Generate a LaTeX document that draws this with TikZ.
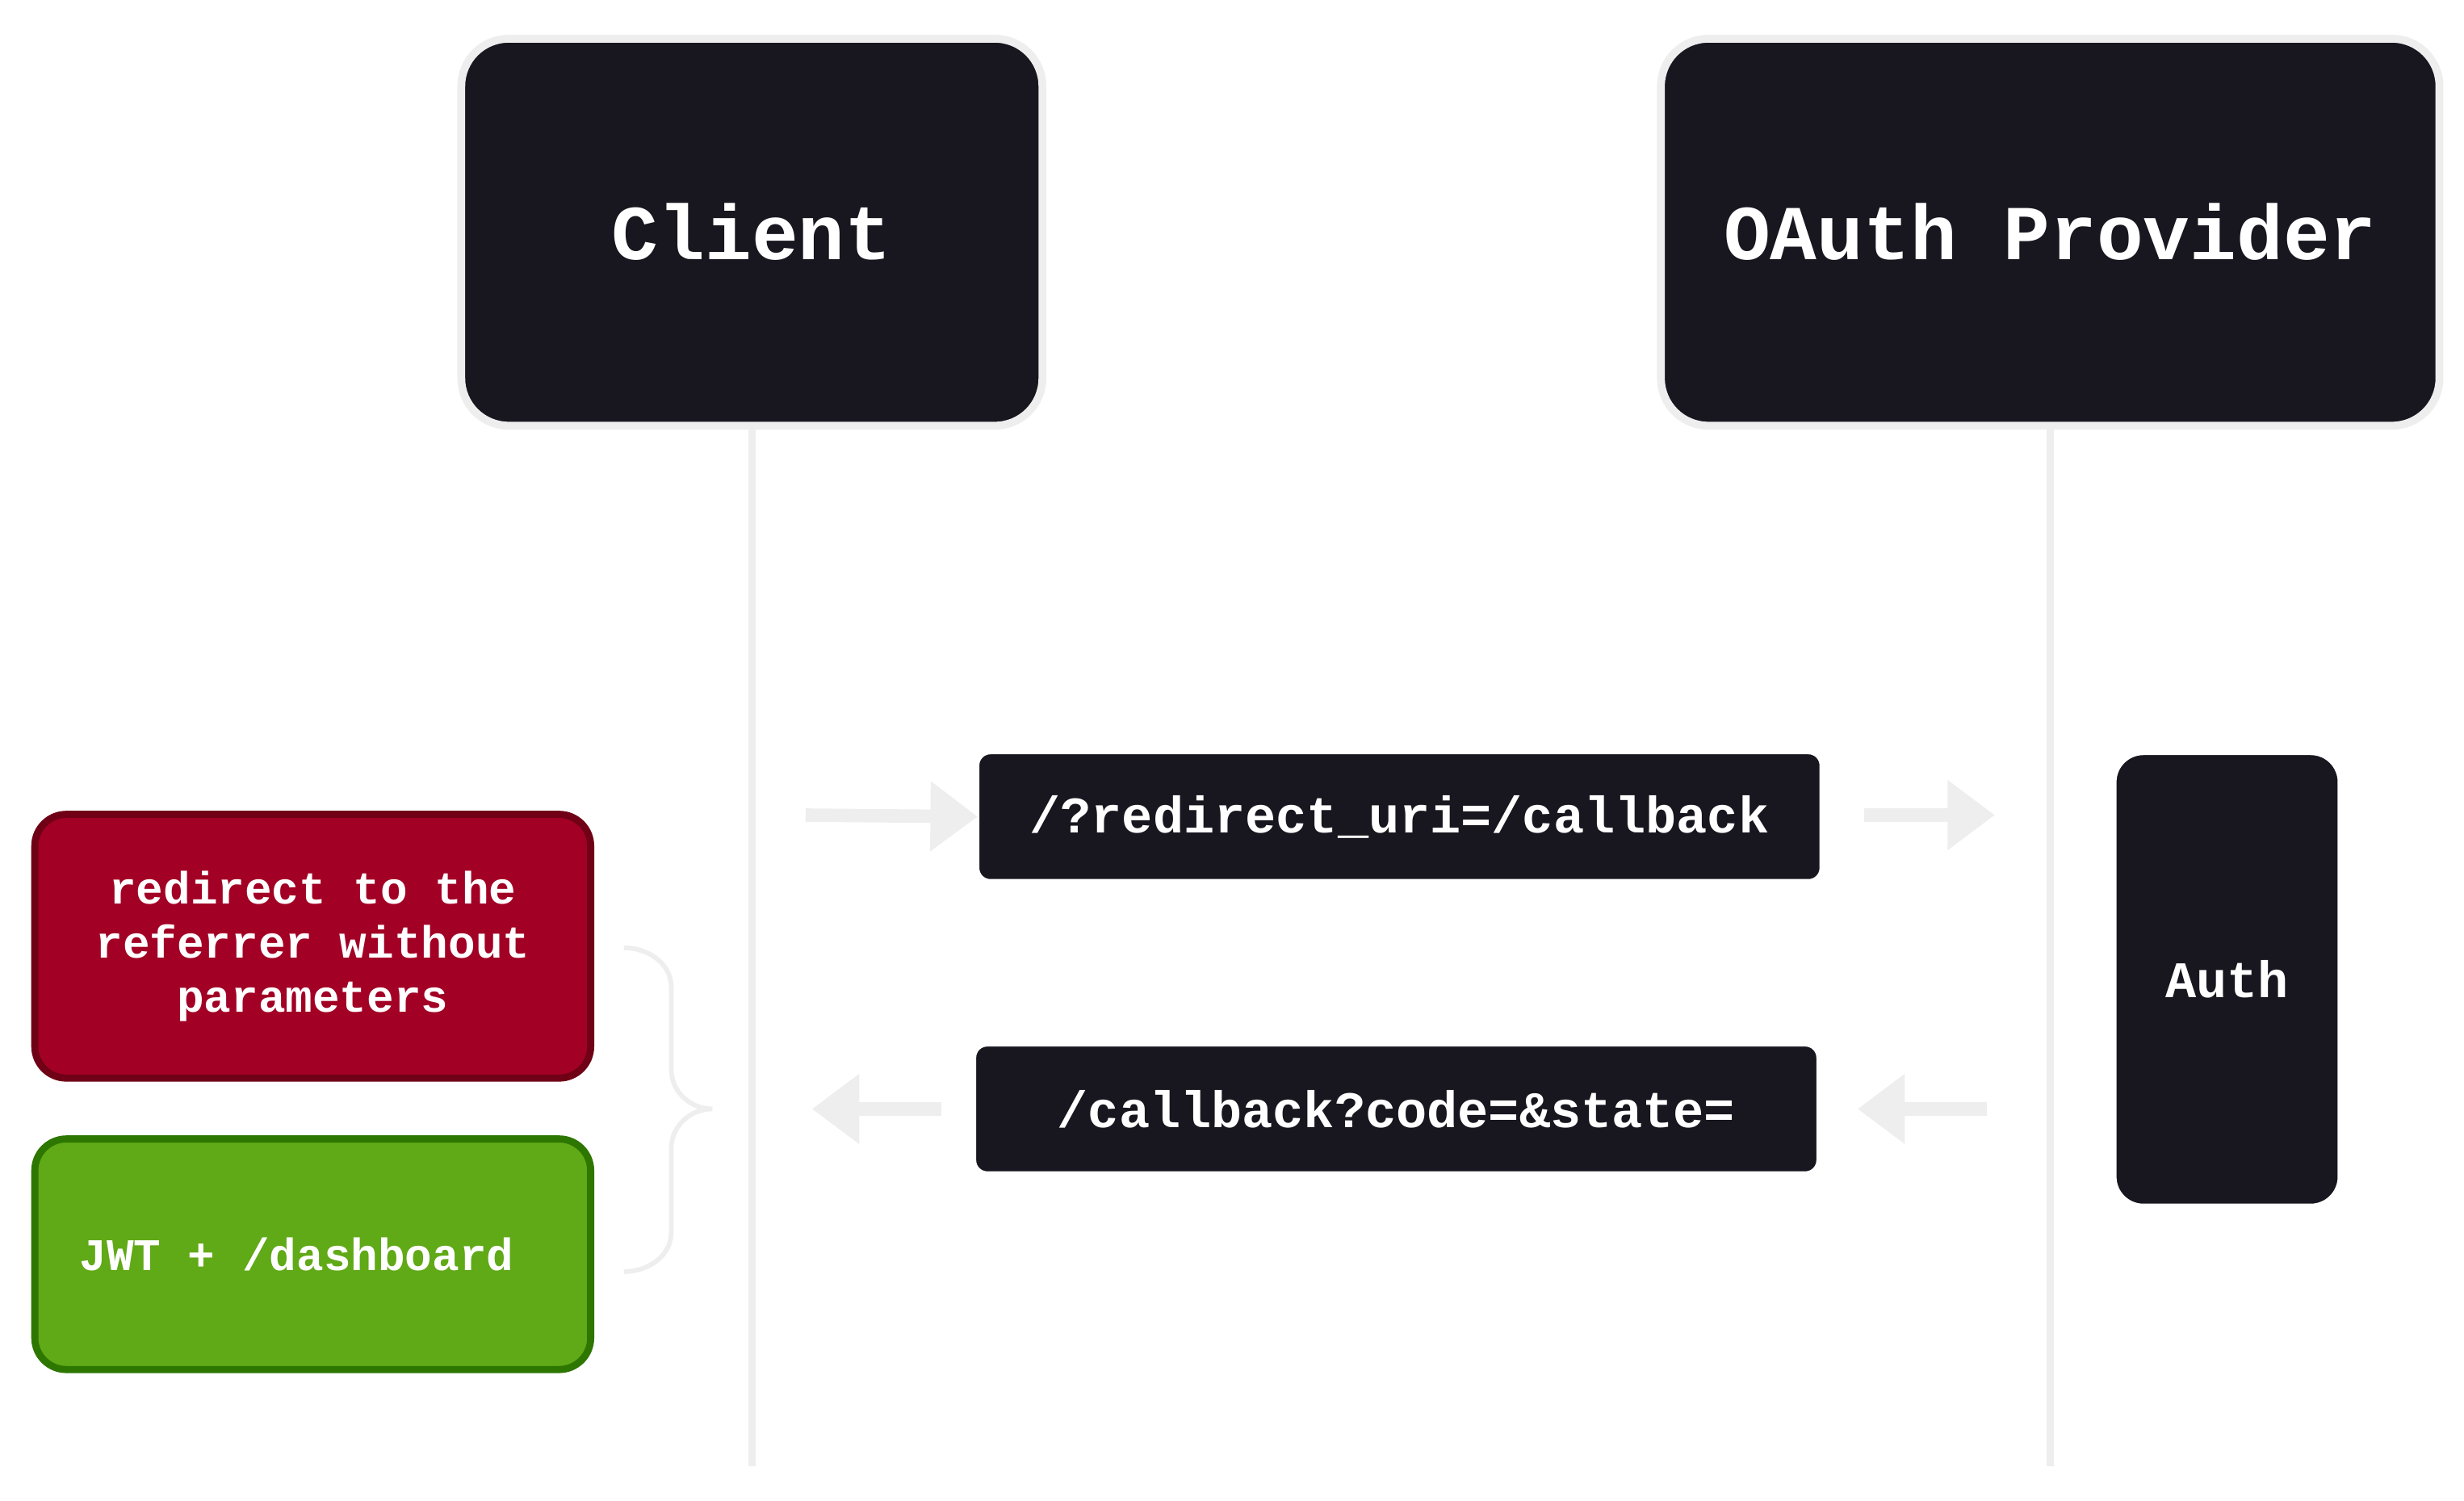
\documentclass[tikz,border=0pt]{standalone}
\usepackage{fontspec}
\setmonofont{Liberation Mono}
\usetikzlibrary{arrows.meta,positioning}
\definecolor{boxdark}{HTML}{18161E}
\definecolor{lifegray}{HTML}{EEEEEE}
\definecolor{redfill}{HTML}{A20025}
\definecolor{redline}{HTML}{6F0015}
\definecolor{greenfill}{HTML}{60A917}
\definecolor{greenline}{HTML}{2D7600}
\tikzset{
  actor/.style={draw=lifegray,line width=0.1cm,fill=boxdark,rounded corners=0.6cm,
    text=white,font=\ttfamily\bfseries\fontsize{28}{30}\selectfont,inner sep=0pt},
  msg/.style={draw=white,line width=0.02cm,fill=boxdark,rounded corners=0.15cm,
    text=white,font=\ttfamily\bfseries\fontsize{18.5}{20}\selectfont,inner sep=0pt},
  result/.style={line width=0.09cm,rounded corners=0.4cm,text=white,align=center,
    font=\ttfamily\bfseries\fontsize{16.3}{19.5}\selectfont,inner sep=0pt},
  lifeline/.style={draw=lifegray,line width=0.09cm},
  flow/.style={draw=lifegray,line width=0.17cm,-{Triangle[length=0.6cm,width=0.85cm]}}
}
\begin{document}
\begin{tikzpicture}[x=0.02cm,y=-0.02cm]
  \useasboundingbox (0,0) rectangle (1560,950);
  % actors
  \node[actor,minimum width=7.36cm,minimum height=4.9cm] (client) at (476,147) {Client};
  \node[actor,minimum width=9.86cm,minimum height=4.9cm] (provider) at (1298,147) {OAuth Provider};
  \coordinate (clientend) at (476,928);
  \coordinate (providerend) at (1298,928);
  \draw[lifeline] (client.south) -- (clientend);
  \draw[lifeline] (provider.south) -- (providerend);
  % messages
  \node[msg,minimum width=10.66cm,minimum height=1.6cm] (request) at (886,517) {/?redirect\_uri=/callback};
  \node[msg,minimum width=10.66cm,minimum height=1.6cm] (callback) at (884,702) {/callback?code=\&state=};
  \node[msg,minimum width=2.82cm,minimum height=5.7cm,rounded corners=0.35cm] (auth) at (1410,620) {Auth};
  % arrows
  \coordinate (a1) at (510,516);
  \coordinate (a2) at (1180,516);
  \coordinate (b1) at (1258,702);
  \coordinate (b2) at (596,702);
  \draw[flow] (a1) -- (request.west);
  \draw[flow] (a2) -- ++(83,0);
  \draw[flow] (b1) -- ++(-82,0);
  \draw[flow] (b2) -- ++(-82,0);
  % outcomes
  \node[result,draw=redline,fill=redfill,minimum width=7.04cm,minimum height=3.34cm] (fail) at (198,599)
    {redirect to the\\referrer without\\parameters};
  \node[result,draw=greenline,fill=greenfill,minimum width=7.04cm,minimum height=2.92cm] (success) at (198,794) {};
  \node[font=\ttfamily\bfseries\fontsize{16.3}{19.5}\selectfont,text=white,anchor=west,inner sep=0pt] (successtext) at (50,794) {JWT + /dashboard};
  % brace
  \draw[draw=lifegray,line width=0.06cm] (395,600) to[out=0,in=90] (425,625) -- (425,677)
    to[out=-90,in=180] (451,702) to[out=180,in=90] (425,727) -- (425,780) to[out=-90,in=0] (395,805);
\end{tikzpicture}
\end{document}
